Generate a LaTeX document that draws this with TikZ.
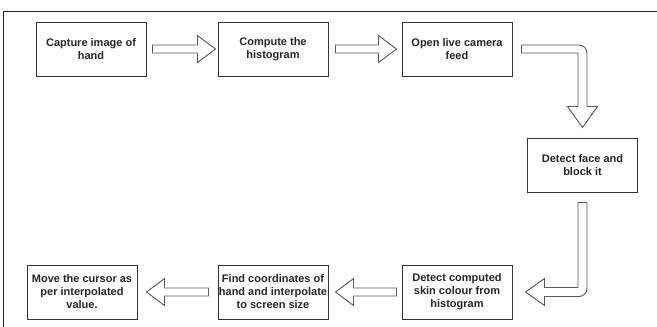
\documentclass[tikz,border=0pt]{standalone}
\usepackage{fontspec}
\setmainfont{Liberation Sans}
\usepackage{tikz}
\usetikzlibrary{calc,positioning}
\tikzset{
  caja/.style={draw=black!80,line width=1pt,minimum width=110pt,minimum height=54pt,
    align=center,inner sep=0pt,font=\bfseries\fontsize{11}{13}\selectfont,text=black!85},
  flecha/.style={draw=black!65,line width=0.9pt,fill=white,line join=miter},
  marco/.style={draw=black!85,line width=1.5pt},
  bloque/.style={to path={
    let \p1=($(\tikztotarget)!18pt!(\tikztostart)$) in
    ($(\tikztostart)!4pt!90:(\tikztotarget)$) -- ($(\p1)!4pt!90:(\tikztotarget)$)
    -- ($(\p1)!13.5pt!90:(\tikztotarget)$) -- (\tikztotarget)
    -- ($(\p1)!13.5pt!-90:(\tikztotarget)$) -- ($(\p1)!4pt!-90:(\tikztotarget)$)
    -- ($(\tikztostart)!4pt!-90:(\tikztotarget)$) -- cycle}}
}
\begin{document}
\begin{tikzpicture}[x=1pt,y=-1pt]
\useasboundingbox (0,0) rectangle (657,327);
\draw[marco] (3.5,327) -- (3.5,11.5) -- (657,11.5);
% fila de arriba
\node[caja] (cap) at (91,49) {Capture image of\\hand};
\node[caja,right=71pt of cap] (hist) {Compute the\\histogram};
\node[caja,right=73pt of hist] (cam) {Open live camera\\feed};
\node[caja] (cara) at (582.5,165) {Detect face and\\block it};
% fila de abajo
\node[caja,below=188pt of cam] (piel) {Detect computed\\skin colour from\\histogram};
\node[caja,left=73pt of piel] (coord) {Find coordinates of\\hand and interpolate\\to screen size};
\node[caja,left=80pt of coord] (mover) {Move the cursor as\\per interpolated\\value.};
% flechas rectas
\draw[flecha] ($(cap.east)+(6,0)$) to[bloque] ($(hist.west)+(-2,0)$);
\draw[flecha] ($(hist.east)+(7,0)$) to[bloque] ($(cam.west)+(-5,0)$);
\draw[flecha] ($(piel.west)+(-5,0)$) to[bloque] ($(coord.east)+(7,0)$);
\draw[flecha] ($(coord.west)+(-9,0)$) to[bloque] ($(mover.east)+(9,0)$);
% flechas con codo
\coordinate (k1) at (cara.north |- cam.east);
\coordinate (k2) at (cara.south |- piel.east);
\draw[flecha] ($(cam.east)+(9,-4)$) [rounded corners=8pt] -- ($(k1)+(4.5,-4)$) [sharp corners]
  -- ($(cara.north)+(4.5,-31)$) -- ($(cara.north)+(15,-31)$) -- ($(cara.north)+(0,-10)$)
  -- ($(cara.north)+(-15,-31)$) -- ($(cara.north)+(-4.5,-31)$) -- ($(k1)+(-4.5,4)$)
  -- ($(cam.east)+(9,4)$) -- cycle;
\draw[flecha] ($(cara.south)+(-4.5,10)$) -- ($(cara.south)+(4.5,10)$) [rounded corners=8pt]
  -- ($(k2)+(4.5,4.5)$) [sharp corners] -- ($(piel.east)+(32,4.5)$) -- ($(piel.east)+(32,13.5)$)
  -- ($(piel.east)+(13,0)$) -- ($(piel.east)+(32,-13.5)$) -- ($(piel.east)+(32,-4.5)$)
  -- ($(k2)+(-4.5,-4.5)$) -- cycle;
\end{tikzpicture}
\end{document}
